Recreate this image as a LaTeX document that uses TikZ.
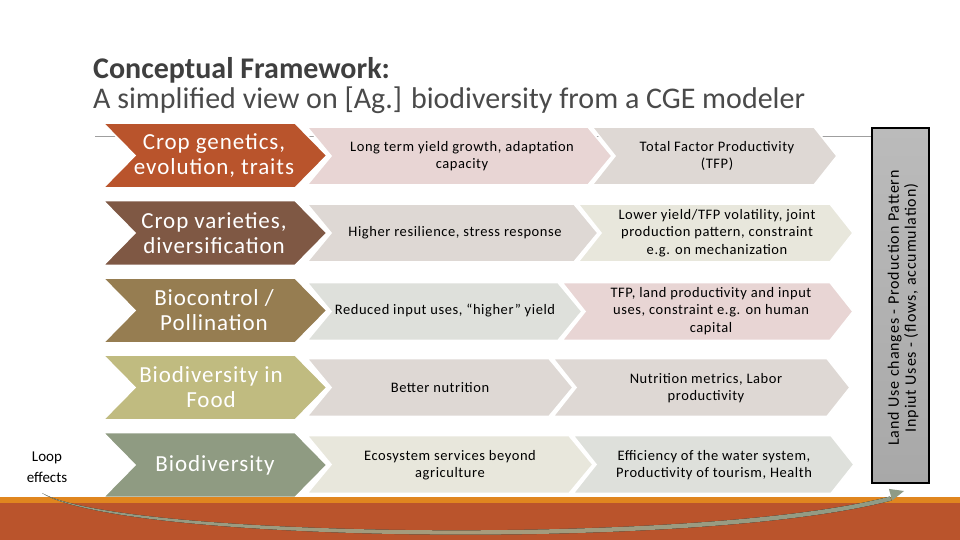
\documentclass[tikz,border=0pt]{standalone}
\usepackage{fontspec}
\setmainfont{Carlito}
\definecolor{titlec}{HTML}{3F3F3F}
\definecolor{subc}{HTML}{4A4A4A}
\definecolor{lc1}{HTML}{B9542C}
\definecolor{lc2}{HTML}{7F5844}
\definecolor{lc3}{HTML}{967D51}
\definecolor{lc4}{HTML}{C0BB80}
\definecolor{lc5}{HTML}{8F9B82}
\definecolor{pinkc}{HTML}{E8D5D4}
\definecolor{greyc}{HTML}{DED8D4}
\definecolor{beigec}{HTML}{E8E7DC}
\definecolor{paleg}{HTML}{DEE0DB}
\definecolor{boxtop}{HTML}{BBBBBB}
\definecolor{boxbot}{HTML}{A8A8A8}
\definecolor{bandor}{HTML}{E0861F}
\definecolor{bandrust}{HTML}{BA542C}
\definecolor{sage}{HTML}{8E9B86}
\definecolor{tan}{HTML}{A89B7B}
\tikzset{
  chev/.style={draw=white, line width=1.6pt, line join=miter},
  lefttxt/.style={text=white, font=\fontsize{23}{25}\selectfont\addfontfeatures{LetterSpace=4}, align=center, inner sep=0},
  midtxt/.style={text=black, font=\fontsize{14.5}{17.5}\selectfont\addfontfeatures{LetterSpace=4}, align=center, inner sep=0},
  titleone/.style={anchor=base west, inner sep=0, text=titlec, font=\fontsize{30}{34}\selectfont\bfseries},
  titletwo/.style={anchor=base west, inner sep=0, text=subc, font=\fontsize{30}{34}\selectfont},
  boxtxt/.style={rotate=90, align=center, inner sep=0, font=\fontsize{16}{17}\selectfont\addfontfeatures{LetterSpace=5.5}},
  looptxt/.style={font=\fontsize{15}{20.5}\selectfont, align=center, inner sep=0},
}
% #1 left x, #2 apex x, #3 centre y, #4 half height, #5 point depth, #6 colour
\newcommand{\mychev}[6]{\path[chev, fill=#6] (#1,{#3-#4}) -- ({#2-#5},{#3-#4}) -- (#2,#3) -- ({#2-#5},{#3+#4}) -- (#1,{#3+#4}) -- ({#1+#5},#3) -- cycle;}
\begin{document}
\begin{tikzpicture}[x=1pt,y=-1pt]
\useasboundingbox (0,0) rectangle (960,540);
\fill[white] (0,0) rectangle (960,540);

% title
\node[titleone] (t1) at (93,79) {Conceptual Framework:};
\node[titletwo] (t2) at (93,109) {A simplified view on [Ag.] biodiversity from a CGE modeler};

% rule
\draw[gray!75, line width=0.8pt] (95,136) -- (872,136);

% right column
\mychev{592}{837}{156}{29}{23}{greyc}
\mychev{578}{853}{233}{29}{23}{beigec}
\mychev{562}{853}{311.5}{29}{23}{pinkc}
\mychev{553}{850}{387.5}{29}{23}{greyc}
\mychev{573}{854}{464.5}{29}{23}{paleg}
% middle column
\mychev{307}{612}{156}{29}{24}{pinkc}
\mychev{307}{598}{233}{29}{24}{greyc}
\mychev{307}{582}{311.5}{29}{24}{paleg}
\mychev{307}{573}{387.5}{29}{24}{greyc}
\mychev{307}{593}{464.5}{29}{24}{beigec}
% left column
\mychev{103}{327}{155.5}{32.5}{32}{lc1}
\mychev{103}{327}{233}{32.5}{32}{lc2}
\mychev{103}{327}{310.5}{32.5}{32}{lc3}
\mychev{103}{327}{387.5}{32.5}{32}{lc4}
\mychev{103}{327}{465}{32.5}{32}{lc5}

% left texts
\node[lefttxt] (l1) at (214,155.5) {Crop genetics,\\evolution, traits};
\node[lefttxt] (l2) at (214,233) {Crop varieties,\\diversification};
\node[lefttxt] (l3) at (214,310.5) {Biocontrol /\\Pollination};
\node[lefttxt] (l4) at (211,387.5) {Biodiversity in\\Food};
\node[lefttxt] (l5) at (215,465) {Biodiversity};

% middle texts
\node[midtxt] (m1) at (462,156) {Long term yield growth, adaptation\\capacity};
\node[midtxt] (m2) at (455,233) {Higher resilience, stress response};
\node[midtxt] (m3) at (445,311) {Reduced input uses, “higher” yield};
\node[midtxt] (m4) at (440,388) {Better nutrition};
\node[midtxt] (m5) at (450,465) {Ecosystem services beyond\\agriculture};

% right texts
\node[midtxt] (r1) at (717,156) {Total Factor Productivity\\(TFP)};
\node[midtxt] (r2) at (717,233) {Lower yield/TFP volatility, joint\\production pattern, constraint\\e.g. on mechanization};
\node[midtxt] (r3) at (711,311) {TFP, land productivity and input\\uses, constraint e.g. on human\\capital};
\node[midtxt] (r4) at (706,388) {Nutrition metrics, Labor\\productivity};
\node[midtxt] (r5) at (714,465) {Efficiency of the water system,\\Productivity of tourism, Health};

% vertical box
\node[draw=black, line width=1.6pt, top color=boxtop, bottom color=boxbot, minimum width=57pt, minimum height=355pt, inner sep=0] (lu) at (900.5,305.5) {};
\node[boxtxt] (lut) at (903,308) {Land Use changes - Production Pattern\\Inpiut Uses - (flows, accumulation)};

% bottom bands
\fill[bandor] (0,497) rectangle (960,503);
\fill[bandrust] (0,503) rectangle (960,540);

% loop curve
\coordinate (cs) at (42,493);
\coordinate (ce) at (904,491);
\fill[left color=sage, right color=sage, middle color=tan] (cs) .. controls (120,538) and (700,546) .. (890,496.5) -- (891.5,500.5) .. controls (700,551) and (120,543) .. (cs) -- cycle;
\fill[sage] (ce) -- (888.9,488.9) -- (892.1,500.5) -- cycle;

% loop label
\node[looptxt] (loop) at (47,467) {Loop\\effects};
\end{tikzpicture}
\end{document}
